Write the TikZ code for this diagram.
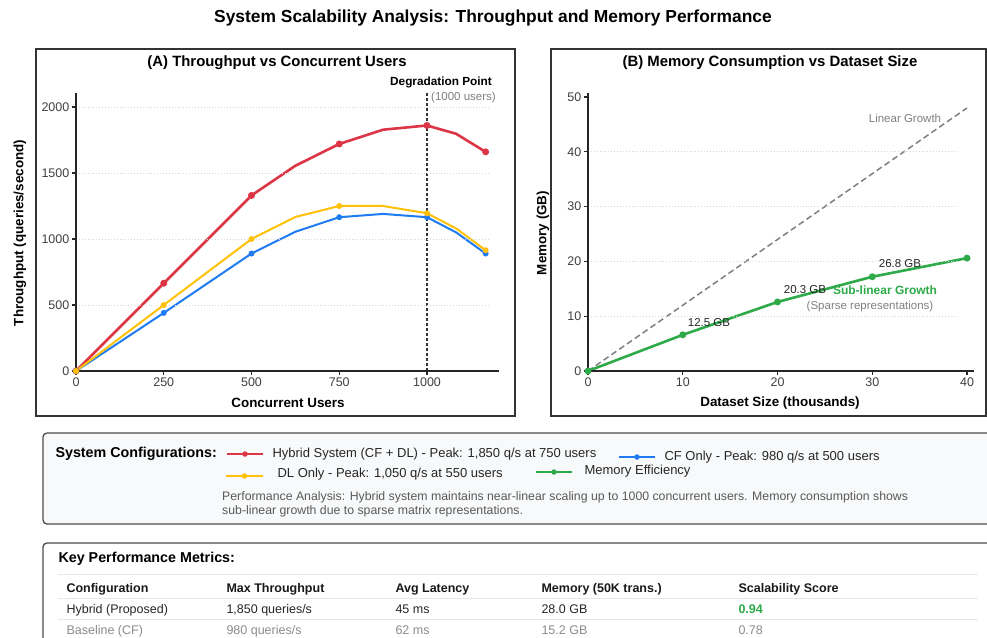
\documentclass[tikz,border=0pt]{standalone}
\usepackage{fontspec}
\setmainfont{Liberation Sans}
\usepackage{tikz}
\usetikzlibrary{backgrounds,positioning}

\definecolor{hybred}{HTML}{DC3545}
\definecolor{cfblue}{HTML}{1F7BF2}
\definecolor{dlyellow}{HTML}{FFC107}
\definecolor{memgreen}{HTML}{2EAA48}
\definecolor{framegray}{HTML}{333333}
\definecolor{gridgray}{HTML}{D8D8D8}
\definecolor{notegray}{HTML}{808080}
\definecolor{rulegray}{HTML}{E6E6E6}
\definecolor{boxbg}{HTML}{F8F9FA}

\newcommand{\fsz}[1]{\fontsize{#1}{#1}\selectfont}

\tikzset{
  dot/.style={circle,fill,inner sep=0pt,minimum size=7pt},
  legdot/.style={circle,fill,inner sep=0pt,minimum size=5.5pt},
  gridln/.style={gridgray,dotted,line width=0.9pt},
  axisln/.style={black!85,line width=1.3pt},
  tickl/.style={text=black!75,font=\fsz{12.5},inner sep=2pt},
  axtitle/.style={font=\bfseries\fsz{13.4}},
  paneltitle/.style={font=\bfseries\fsz{14.9}},
  frame/.style={draw=framegray,line width=1.6pt},
  series/.style={line width=2.3pt,line join=round,line cap=round},
  legtext/.style={anchor=west,font=\fsz{13},text=black!85},
  cell/.style={anchor=base west,font=\fsz{12.5},text=black!85},
  headcell/.style={anchor=base west,font=\bfseries\fsz{12.5},text=black!90}
}

\begin{document}
\begin{tikzpicture}[x=1pt,y=-1pt]
\useasboundingbox (0,0) rectangle (987,637);
\begin{scope}[on background layer]
\fill[white] (0,0) rectangle (987,637);
\end{scope}

\node[font=\bfseries\fsz{17.4}] (maintitle) at (493,18) {System Scalability Analysis: Throughput and Memory Performance};

% panel frames
\draw[frame] (36,49) rectangle (515,416);
\draw[frame] (551,49) rectangle (986,416);
\node[paneltitle] (titleA) at (277,63) {(A) Throughput vs Concurrent Users};
\node[paneltitle] (titleB) at (770,63) {(B) Memory Consumption vs Dataset Size};

% (A) throughput
\begin{scope}[shift={(76,371)},x=0.351pt,y=0.132pt]
\draw[gridln] (0,500) -- (1175,500);
\draw[gridln] (0,1000) -- (1175,1000);
\draw[gridln] (0,1500) -- (1175,1500);
\draw[gridln] (0,2000) -- (1175,2000);
\draw[axisln] (0,0) -- (1205,0);
\draw[axisln] (0,0) -- (0,2106);
\draw[axisln] (0,0) -- ++(-4pt,0pt) node[tickl,left] (ay0) {0};
\draw[axisln] (0,500) -- ++(-4pt,0pt) node[tickl,left] (ay500) {500};
\draw[axisln] (0,1000) -- ++(-4pt,0pt) node[tickl,left] (ay1000) {1000};
\draw[axisln] (0,1500) -- ++(-4pt,0pt) node[tickl,left] (ay1500) {1500};
\draw[axisln] (0,2000) -- ++(-4pt,0pt) node[tickl,left] (ay2000) {2000};
\draw[axisln] (0,0) -- ++(0pt,-4pt) node[tickl,below] (ax0) {0};
\draw[axisln] (250,0) -- ++(0pt,-4pt) node[tickl,below] (ax250) {250};
\draw[axisln] (500,0) -- ++(0pt,-4pt) node[tickl,below] (ax500) {500};
\draw[axisln] (750,0) -- ++(0pt,-4pt) node[tickl,below] (ax750) {750};
\draw[axisln] (1000,0) -- ++(0pt,-4pt) node[tickl,below] (ax1000) {1000};
\coordinate (deg0) at (1000,0);
\coordinate (deg1) at (1000,2106);

\node[dot,hybred] (hyb0) at (0,0) {};
\node[dot,hybred] (hyb1) at (250,665) {};
\node[dot,hybred] (hyb2) at (500,1330) {};
\coordinate (hyb2a) at (625,1555);
\node[dot,hybred] (hyb3) at (750,1720) {};
\coordinate (hyb3a) at (875,1828);
\node[dot,hybred] (hyb4) at (1000,1860) {};
\coordinate (hyb4a) at (1083,1797);
\node[dot,hybred] (hyb5) at (1167,1660) {};

\node[dot,cfblue,minimum size=6pt] (cf0) at (0,0) {};
\node[dot,cfblue,minimum size=6pt] (cf1) at (250,440) {};
\node[dot,cfblue,minimum size=6pt] (cf2) at (500,890) {};
\coordinate (cf2a) at (625,1055);
\node[dot,cfblue,minimum size=6pt] (cf3) at (750,1165) {};
\coordinate (cf3a) at (875,1190);
\node[dot,cfblue,minimum size=6pt] (cf4) at (1000,1165) {};
\coordinate (cf4a) at (1083,1050);
\node[dot,cfblue,minimum size=6pt] (cf5) at (1167,890) {};

\node[dot,dlyellow,minimum size=6pt] (dl0) at (0,0) {};
\node[dot,dlyellow,minimum size=6pt] (dl1) at (250,500) {};
\node[dot,dlyellow,minimum size=6pt] (dl2) at (500,1000) {};
\coordinate (dl2a) at (625,1167);
\node[dot,dlyellow,minimum size=6pt] (dl3) at (750,1250) {};
\coordinate (dl3a) at (875,1250);
\node[dot,dlyellow,minimum size=6pt] (dl4) at (1000,1195) {};
\coordinate (dl4a) at (1083,1080);
\node[dot,dlyellow,minimum size=6pt] (dl5) at (1167,915) {};

\begin{scope}[on background layer]
\path [draw, series, hybred, line width=2.6pt] (hyb0.center) -- (hyb1.center) -- (hyb2.center) -- (hyb2a) -- (hyb3.center) -- (hyb3a) -- (hyb4.center) -- (hyb4a) -- (hyb5.center);
\path [draw, series, cfblue, line width=2pt] (cf0.center) -- (cf1.center) -- (cf2.center) -- (cf2a) -- (cf3.center) -- (cf3a) -- (cf4.center) -- (cf4a) -- (cf5.center);
\path [draw, series, dlyellow, line width=2pt] (dl0.center) -- (dl1.center) -- (dl2.center) -- (dl2a) -- (dl3.center) -- (dl3a) -- (dl4.center) -- (dl4a) -- (dl5.center);
\path [draw, black!80, dash pattern=on 3pt off 2pt, line width=1.3pt] (deg0) -- (deg1);
\end{scope}
\end{scope}
\node[font=\bfseries\fsz{11.8}] (degtext) at (441,82) {Degradation Point};
\node[anchor=west,font=\fsz{11.5},text=notegray,inner sep=0pt] (degusers) at (431,98) {(1000 users)};
\node[axtitle] (xlabA) at (288,403) {Concurrent Users};
\node[axtitle,rotate=90] (ylabA) at (20,233) {Throughput (queries/second)};

% (B) memory
\begin{scope}[shift={(588,371)},x=9.475pt,y=5.48pt]
\draw[gridln] (0,10) -- (39,10);
\draw[gridln] (0,20) -- (39,20);
\draw[gridln] (0,30) -- (39,30);
\draw[gridln] (0,40) -- (39,40);
\draw[axisln] (0,0) -- (40.7,0);
\draw[axisln] (0,0) -- (0,50.7);
\draw[axisln] (0,0) -- ++(-4pt,0pt) node[tickl,left] (by0) {0};
\draw[axisln] (0,10) -- ++(-4pt,0pt) node[tickl,left] (by10) {10};
\draw[axisln] (0,20) -- ++(-4pt,0pt) node[tickl,left] (by20) {20};
\draw[axisln] (0,30) -- ++(-4pt,0pt) node[tickl,left] (by30) {30};
\draw[axisln] (0,40) -- ++(-4pt,0pt) node[tickl,left] (by40) {40};
\draw[axisln] (0,50) -- ++(-4pt,0pt) node[tickl,left] (by50) {50};
\draw[axisln] (0,0) -- ++(0pt,-4pt) node[tickl,below] (bx0) {0};
\draw[axisln] (10,0) -- ++(0pt,-4pt) node[tickl,below] (bx10) {10};
\draw[axisln] (20,0) -- ++(0pt,-4pt) node[tickl,below] (bx20) {20};
\draw[axisln] (30,0) -- ++(0pt,-4pt) node[tickl,below] (bx30) {30};
\draw[axisln] (40,0) -- ++(0pt,-4pt) node[tickl,below] (bx40) {40};

\node[dot,memgreen] (mem0) at (0,0) {};
\node[dot,memgreen] (mem1) at (10,6.6) {};
\node[dot,memgreen] (mem2) at (20,12.6) {};
\node[dot,memgreen] (mem3) at (30,17.2) {};
\node[dot,memgreen] (mem4) at (40,20.6) {};
\coordinate (lin40) at (40,48);
\begin{scope}[on background layer]
\path [draw, notegray, dash pattern=on 6pt off 3.5pt, line width=1.5pt] (mem0.center) -- (lin40);
\path [draw, series, memgreen, line width=2.6pt] (mem0.center) -- (mem1.center) -- (mem2.center) -- (mem3.center) -- (mem4.center);
\end{scope}
\end{scope}
\node[font=\fsz{11.5},text=black!85] (lbl125) at (709,323) {12.5 GB};
\node[font=\fsz{11.5},text=black!85] (lbl203) at (805,290) {20.3 GB};
\node[font=\fsz{11.5},text=black!85] (lbl268) at (900,264) {26.8 GB};
\node[font=\bfseries\fsz{12},text=memgreen] (sublin) at (885,290) {Sub-linear Growth};
\node[font=\fsz{11.5},text=notegray] (sparse) at (870,307) {(Sparse representations)};
\node[font=\fsz{11.5},text=notegray] (lingrowth) at (905,118) {Linear Growth};
\node[axtitle] (xlabB) at (780,403) {Dataset Size (thousands)};
\node[axtitle,rotate=90] (ylabB) at (543,233) {Memory (GB)};

% legend box
\draw[draw=black!70,fill=boxbg,line width=1.3pt,rounded corners=4pt] (43,433) rectangle (1000,524);
\node[anchor=west,font=\bfseries\fsz{14.3}] (legtitle) at (52,454) {System Configurations:};
\coordinate (lgR1) at (227,454);
\coordinate (lgR2) at (263,454);
\draw[hybred,line width=2.5pt] (lgR1) -- node[legdot] (lgRdot) {} (lgR2);
\node[legtext] (lgRtext) at (269,454) {Hybrid System (CF + DL) - Peak: 1,850 q/s at 750 users};
\coordinate (lgB1) at (619,457);
\coordinate (lgB2) at (655,457);
\draw[cfblue,line width=2.5pt] (lgB1) -- node[legdot] (lgBdot) {} (lgB2);
\node[legtext] (lgBtext) at (661,457) {CF Only - Peak: 980 q/s at 500 users};
\coordinate (lgY1) at (226,476);
\coordinate (lgY2) at (263,476);
\draw[dlyellow,line width=2.5pt] (lgY1) -- node[legdot] (lgYdot) {} (lgY2);
\node[legtext] (lgYtext) at (274,474) {DL Only - Peak: 1,050 q/s at 550 users};
\coordinate (lgG1) at (536,472);
\coordinate (lgG2) at (572,472);
\draw[memgreen,line width=2.5pt] (lgG1) -- node[legdot] (lgGdot) {} (lgG2);
\node[legtext] (lgGtext) at (581,471) {Memory Efficiency};
\node[anchor=north west,align=left,font=\fsz{12.3},text=black!65,inner sep=0pt] (perfnote) at (222,491) {Performance Analysis: Hybrid system maintains near-linear scaling up to 1000 concurrent users. Memory consumption shows\\[2.5pt]sub-linear growth due to sparse matrix representations.};

% metrics table
\draw[draw=black!70,fill=white,line width=1.3pt,rounded corners=4pt] (43,543) rectangle (1000,660);
\node[anchor=west,font=\bfseries\fsz{14.3}] (mettitle) at (55,559) {Key Performance Metrics:};
\draw[rulegray,line width=1pt] (58,574) -- (978,574);
\draw[rulegray,line width=1pt] (58,598) -- (978,598);
\draw[rulegray,line width=1pt] (58,619) -- (978,619);
\node[headcell] (hConf) at (63,592.5) {Configuration};
\node[headcell] (hThr) at (223,592.5) {Max Throughput};
\node[headcell] (hLat) at (392,592.5) {Avg Latency};
\node[headcell] (hMem) at (538,592.5) {Memory (50K trans.)};
\node[headcell] (hScore) at (735,592.5) {Scalability Score};
\node[cell] (r1Conf) at (63,613.5) {Hybrid (Proposed)};
\node[cell] (r1Thr) at (223,613.5) {1,850 queries/s};
\node[cell] (r1Lat) at (392,613.5) {45 ms};
\node[cell] (r1Mem) at (538,613.5) {28.0 GB};
\node[cell,font=\bfseries\fsz{12.5},text=memgreen] (r1Score) at (735,613.5) {0.94};
\node[cell,text=black!45] (r2Conf) at (63,634) {Baseline (CF)};
\node[cell,text=black!45] (r2Thr) at (223,634) {980 queries/s};
\node[cell,text=black!45] (r2Lat) at (392,634) {62 ms};
\node[cell,text=black!45] (r2Mem) at (538,634) {15.2 GB};
\node[cell,text=black!45] (r2Score) at (735,634) {0.78};
\end{tikzpicture}
\end{document}
